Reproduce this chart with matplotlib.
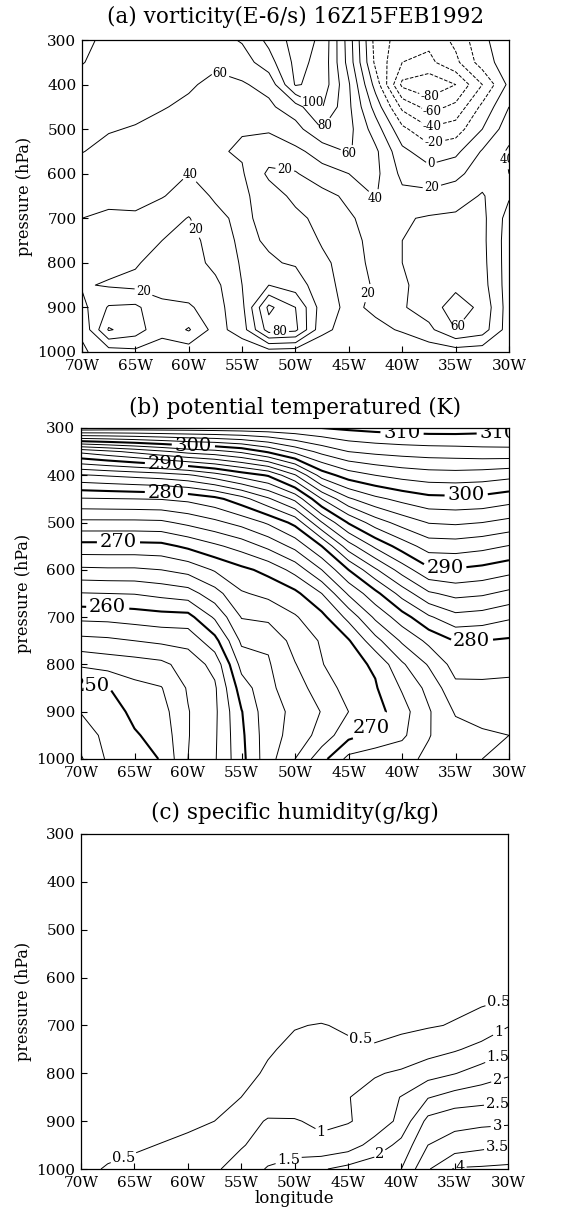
import numpy as np
import matplotlib
matplotlib.use("Agg")
import matplotlib.pyplot as plt

plt.rcParams['font.family'] = ['DejaVu Serif']

# grid of the cross section (longitude in degrees east, pressure in hPa)
lons = np.array([-70, -67.5, -65, -62.5, -60, -57.5, -55, -52.5, -50,
                 -47.5, -45, -42.5, -40, -37.5, -35, -32.5, -30])
pres = np.array([300, 350, 400, 450, 500, 550, 600, 650, 700, 750, 800,
                 850, 900, 950, 1000])

# (a) relative vorticity, 1e-6/s, rows = pres, cols = lons
vort = np.array([
    [85, 75, 70, 68, 68, 72, 82, 105, 128, 117, 50, -28, -50, -55, -35, -5, 15],
    [81, 72, 68, 66, 64, 63, 70, 92, 125, 115, 52, -25, -60, -65, -45, -10, 12],
    [72, 68, 66, 64, 62, 56, 58, 66, 122, 113, 62, -8, -85, -95, -80, -40, 5],
    [68, 66, 64, 61, 57, 53, 52, 56, 72, 101, 64, 12, -45, -68, -55, -15, 20],
    [62, 61, 59, 55, 50, 46, 41, 42, 52, 80, 66, 30, -15, -37, -30, 0, 32],
    [60.5, 56, 53, 49, 45, 42, 38, 30, 36, 47, 62, 44, 5, -11, -5, 22, 43],
    [53, 49, 46, 43, 40, 44, 42, 16, 18, 34, 40, 45, 15, 8, 15, 30, 40],
    [46, 43, 44, 41, 33, 42, 44, 30, 15, 12, 25, 41, 25, 26, 30, 42, 22],
    [40, 38, 38, 30, 19, 36, 44, 34, 25, 14, 17, 30, 38, 42, 44, 45, 12],
    [33, 32, 28, 20, 12, 30, 44, 38, 32, 18, 12, 28, 40, 44, 46, 45, 10],
    [27, 26, 22, 12, 10, 26, 42, 42, 38, 24, 12, 25, 40, 45, 48, 46, 10],
    [22, 18, 15, 12, 12, 15, 40, 60, 50, 28, 12, 22, 38, 46, 55, 48, 10],
    [14, 42, 44, 25, 22, 12, 35, 105, 80, 30, 15, 24, 38, 50, 70, 55, 10],
    [3, 62, 50, 25, 42, 12, 30, 90, 85, 25, 12, 15, 22, 35, 60, 50, 10],
    [-3, 10, 15, 12, 8, 5, 5, 10, 8, 5, 5, 5, 5, 8, 10, 8, 5],
])

# (b) potential temperature, K
theta = np.array([
    [309.5, 309.3, 309.2, 309.2, 309.2, 309.3, 309.4, 309.5, 309.7, 310.0, 310.4, 310.7, 310.9, 311.0, 311.0, 310.8, 310.6],
    [292.5, 293.5, 294.5, 295.6, 296.7, 297.3, 298.4, 300.3, 302.6, 304.6, 306.0, 306.5, 306.8, 307.0, 307.1, 307.3, 307.4],
    [283.8, 284.2, 284.6, 285.0, 285.7, 287.1, 288.8, 290.2, 293.8, 298.9, 301.0, 302.0, 302.7, 303.1, 303.2, 303.0, 302.6],
    [277.8, 277.9, 278.0, 278.1, 278.5, 279.4, 281.2, 283.7, 286.5, 292.0, 295.7, 297.5, 298.6, 299.4, 299.5, 299.4, 298.8],
    [273.5, 273.5, 273.5, 273.6, 274.5, 275.5, 276.7, 278.3, 280.6, 285.9, 290.2, 293.0, 294.8, 296.1, 296.3, 296.0, 295.4],
    [269.3, 269.3, 269.3, 269.4, 270.4, 271.6, 272.8, 274.5, 276.6, 280.0, 285.1, 288.4, 290.9, 292.9, 293.0, 292.6, 291.9],
    [265.6, 265.7, 265.7, 266.0, 266.7, 268.2, 269.5, 270.6, 272.7, 276.0, 280.0, 283.7, 286.9, 289.6, 289.8, 289.4, 288.7],
    [261.9, 262.0, 262.1, 262.6, 263.1, 265.2, 267.8, 268.5, 269.5, 272.0, 276.3, 279.4, 282.8, 285.7, 286.6, 286.3, 285.5],
    [258.5, 258.6, 258.9, 259.2, 259.3, 262.3, 266.1, 266.5, 267.8, 269.4, 272.6, 276.4, 279.1, 281.7, 283.4, 283.1, 282.3],
    [255.4, 255.6, 256.0, 256.4, 256.6, 259.3, 264.4, 264.3, 266.8, 268.2, 269.8, 273.3, 276.3, 278.5, 280.1, 280.0, 279.7],
    [252.3, 252.8, 253.1, 253.5, 254.9, 256.6, 262.7, 263.8, 265.9, 267.9, 269.3, 270.3, 273.7, 276.2, 278.8, 278.7, 278.6],
    [249.6, 249.9, 251.4, 251.9, 254.2, 255.7, 261.0, 263.5, 265.2, 266.9, 268.8, 269.8, 272.2, 274.6, 277.5, 277.6, 277.5],
    [248.1, 249.0, 250.5, 251.2, 253.9, 255.6, 259.9, 263.3, 264.4, 266.1, 268.0, 269.2, 271.2, 273.8, 276.2, 276.5, 276.4],
    [246.9, 248.6, 249.8, 250.7, 253.9, 255.7, 259.6, 263.2, 264.7, 266.8, 269.4, 270.6, 271.6, 273.9, 275.2, 275.8, 276.0],
    [245.8, 248.3, 249.2, 250.1, 254.0, 255.8, 259.4, 263.2, 266.0, 269.3, 272.6, 273.2, 273.4, 274.4, 275.2, 276.0, 276.6],
])

# (c) specific humidity, g/kg
qv = np.array([
    [0.02, 0.02, 0.02, 0.02, 0.02, 0.02, 0.02, 0.02, 0.02, 0.02, 0.02, 0.02, 0.03, 0.03, 0.03, 0.03, 0.03],
    [0.03, 0.03, 0.03, 0.03, 0.03, 0.03, 0.03, 0.03, 0.03, 0.03, 0.03, 0.04, 0.04, 0.04, 0.04, 0.05, 0.05],
    [0.04, 0.04, 0.04, 0.04, 0.04, 0.04, 0.04, 0.05, 0.05, 0.05, 0.05, 0.06, 0.06, 0.06, 0.07, 0.07, 0.08],
    [0.05, 0.05, 0.05, 0.05, 0.05, 0.06, 0.06, 0.07, 0.07, 0.08, 0.08, 0.09, 0.10, 0.10, 0.11, 0.12, 0.13],
    [0.06, 0.06, 0.06, 0.07, 0.07, 0.08, 0.08, 0.09, 0.10, 0.11, 0.12, 0.13, 0.14, 0.15, 0.16, 0.17, 0.19],
    [0.07, 0.07, 0.08, 0.08, 0.09, 0.10, 0.11, 0.12, 0.14, 0.15, 0.16, 0.17, 0.19, 0.20, 0.22, 0.24, 0.27],
    [0.08, 0.08, 0.09, 0.10, 0.11, 0.12, 0.14, 0.16, 0.18, 0.20, 0.21, 0.23, 0.25, 0.27, 0.30, 0.33, 0.38],
    [0.09, 0.10, 0.11, 0.12, 0.13, 0.15, 0.18, 0.22, 0.27, 0.30, 0.30, 0.31, 0.33, 0.36, 0.40, 0.44, 0.53],
    [0.10, 0.11, 0.12, 0.14, 0.16, 0.20, 0.25, 0.34, 0.48, 0.52, 0.45, 0.42, 0.43, 0.46, 0.53, 0.70, 0.97],
    [0.11, 0.12, 0.14, 0.16, 0.19, 0.24, 0.32, 0.46, 0.58, 0.62, 0.57, 0.53, 0.62, 0.80, 0.95, 1.15, 1.42],
    [0.12, 0.14, 0.16, 0.19, 0.23, 0.29, 0.38, 0.55, 0.63, 0.68, 0.80, 0.95, 1.08, 1.30, 1.48, 1.72, 1.93],
    [0.14, 0.16, 0.19, 0.23, 0.28, 0.36, 0.50, 0.65, 0.75, 0.80, 0.98, 1.20, 1.52, 1.97, 2.20, 2.30, 2.38],
    [0.17, 0.20, 0.24, 0.29, 0.36, 0.50, 0.75, 1.05, 1.03, 0.92, 0.97, 1.15, 1.65, 2.65, 2.85, 2.88, 2.90],
    [0.25, 0.32, 0.42, 0.52, 0.65, 0.80, 0.97, 1.15, 1.22, 1.10, 1.25, 1.70, 2.15, 3.00, 3.20, 3.35, 3.48],
    [0.35, 0.55, 0.65, 0.75, 0.85, 0.95, 1.15, 1.55, 1.75, 1.95, 2.15, 2.30, 2.50, 3.45, 4.05, 4.08, 4.12],
])

vort_levels = [-100, -80, -60, -40, -20, 0, 20, 40, 60, 80, 100, 120]
theta_thin = [246, 248, 252, 254, 256, 258, 262, 264, 266, 268, 272, 274, 276, 278,
              282, 284, 286, 288, 292, 294, 296, 298, 302, 304, 306, 308]
theta_bold = [250, 260, 270, 280, 290, 300, 310]
q_levels = [0.5, 1, 1.5, 2, 2.5, 3, 3.5, 4]

# where the contour labels sit (lon, hPa)
vort_label_at = [(-57, 371), (-48.3, 436), (-46.8, 500), (-44.8, 560), (-42.9, 668),
                 (-51, 590), (-59.8, 600), (-59.9, 730), (-64.4, 876), (-51.5, 947),
                 (-41.5, 880), (-34.6, 947), (-37.4, 427), (-37.2, 461),
                 (-37.2, 495), (-37, 532), (-37.3, 577), (-37.2, 633), (-31.2, 573)]
theta_label_at = [(-59.5, 337), (-62, 372), (-62, 428), (-66.5, 540), (-67.5, 676),
                  (-69, 836), (-40, 312), (-31, 312), (-34, 442), (-36, 597),
                  (-33.5, 752), (-42.5, 945)]
q_label_at = [(-65.7, 995), (-44, 747), (-47.5, 939), (-50.5, 985), (-42, 968),
              (-31, 643), (-31, 708), (-31, 765), (-31, 813), (-31, 862), (-31, 911),
              (-31, 953), (-34.5, 995)]

xtick_pos = [-70, -65, -60, -55, -50, -45, -40, -35, -30]
xtick_lab = ['70W', '65W', '60W', '55W', '50W', '45W', '40W', '35W', '30W']
ytick_pos = [300, 400, 500, 600, 700, 800, 900, 1000]


def frame(ax, title, pad):
    ax.set_xlim(-70, -30)
    ax.set_ylim(1000, 300)
    ax.set_xticks(xtick_pos)
    ax.set_xticklabels(xtick_lab)
    ax.set_yticks(ytick_pos)
    ax.tick_params(direction='in', length=4, width=0.8, labelsize=11)
    ax.tick_params(axis='x', pad=5)
    ax.tick_params(axis='y', pad=4)
    ax.set_ylabel('pressure (hPa)', fontsize=11.5, labelpad=3)
    ax.set_title(title, fontsize=15.5, pad=pad)
    for s in ax.spines.values():
        s.set_linewidth(0.9)


def flat(labels):
    # GrADS writes its contour labels upright
    for t in labels:
        t.set_rotation(0)


fig = plt.figure(figsize=(5.65, 12.2), dpi=100)

# (a) vorticity
ax = fig.add_axes([0.1451, 0.7115, 0.7558, 0.2557])
cs = ax.contour(lons, pres, vort, levels=vort_levels, colors='k', linewidths=0.7)
flat(ax.clabel(cs, fmt='%d', fontsize=8.5, inline=True, inline_spacing=2,
               manual=vort_label_at))
frame(ax, '(a) vorticity(E-6/s) 16Z15FEB1992', 12)

# (b) potential temperature
ax = fig.add_axes([0.1434, 0.3779, 0.7575, 0.2713])
ax.contour(lons, pres, theta, levels=theta_thin, colors='k', linewidths=0.7)
cs = ax.contour(lons, pres, theta, levels=theta_bold, colors='k', linewidths=1.5)
flat(ax.clabel(cs, fmt='%d', fontsize=14, inline=True, inline_spacing=3,
               manual=theta_label_at))
frame(ax, '(b) potential temperatured (K)', 10)

# (c) specific humidity
ax = fig.add_axes([0.1434, 0.0418, 0.7558, 0.2746])
cs = ax.contour(lons, pres, qv, levels=q_levels, colors='k', linewidths=0.7)
flat(ax.clabel(cs, fmt='%g', fontsize=10.5, inline=True, inline_spacing=2,
               manual=q_label_at))
frame(ax, '(c) specific humidity(g/kg)', 11)
ax.set_xlabel('longitude', fontsize=12, labelpad=0)

fig.savefig('out.png', dpi=100)
